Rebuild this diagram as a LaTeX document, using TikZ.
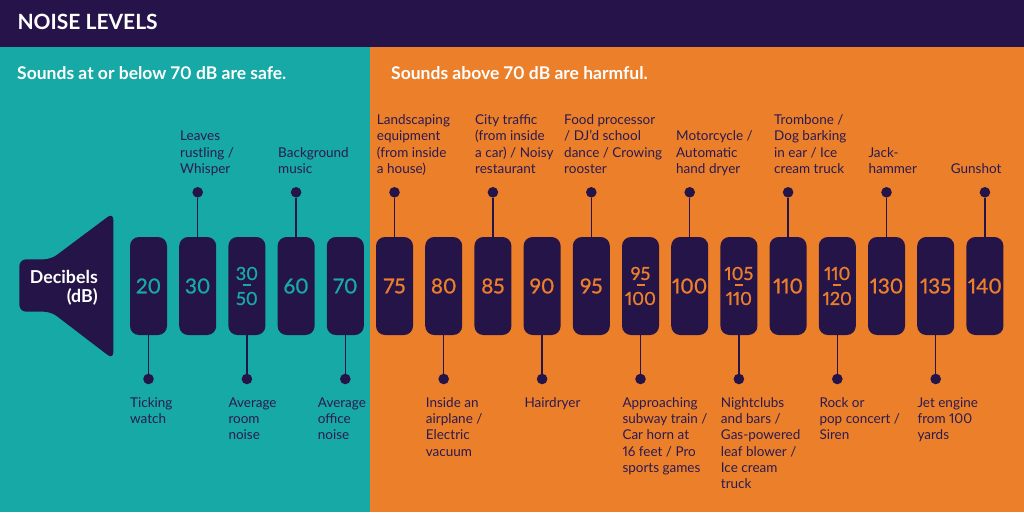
\documentclass[tikz,border=0pt]{standalone}
\usepackage{fontspec}
\setmainfont{Lato}[Numbers=Proportional]
\newfontface\numfont{Lato}[Numbers=Proportional, FakeBold=1.2]
\definecolor{hdr}{HTML}{26134A}
\definecolor{barc}{HTML}{251448}
\definecolor{tealbg}{HTML}{17A9A5}
\definecolor{orangebg}{HTML}{EC7F2A}
\definecolor{txt}{HTML}{2A1A50}
\newcommand\toplines[1]{\begin{tabular}[b]{@{}l@{}}#1\end{tabular}}
\newcommand\botlines[1]{\begin{tabular}[t]{@{}l@{}}#1\end{tabular}}
\tikzset{
  barbox/.style={fill=barc, rounded corners=9pt, minimum width=37pt, minimum height=98pt, inner sep=0pt, font=\numfont\fontsize{20.5}{24}\selectfont},
  sbar/.style={barbox, text=tealbg},
  hbar/.style={barbox, text=orangebg},
  fracbar/.style={align=center, font=\numfont\fontsize{18}{25}\selectfont},
  fracline/.style={line width=1.3pt},
  dot/.style={circle, fill=barc, minimum size=10.6pt, inner sep=0pt},
  pinline/.style={draw=barc, line width=1.4pt},
  lbl/.style={anchor=base west, inner sep=0pt, text=txt, font=\fontsize{13.5}{16.3}\selectfont},
}
\begin{document}
\begin{tikzpicture}[x=1pt,y=-1pt]
\useasboundingbox (0,0) rectangle (1024,516);
\fill[white] (0,0) rectangle (1024,516);
\fill[hdr] (0,0) rectangle (1024,47);
\fill[tealbg] (0,47) rectangle (370,511.5);
\fill[orangebg] (370,47) rectangle (1024,511.5);

\node[anchor=base west, inner sep=0pt, text=white, font=\bfseries\fontsize{21}{25}\selectfont] (title) at (17.3,30) {NOISE LEVELS};
\node[anchor=base west, inner sep=0pt, text=white, font=\bfseries\fontsize{17.5}{20}\selectfont] (safe) at (17,80) {Sounds at or below 70 dB are safe.};
\node[anchor=base west, inner sep=0pt, text=white, font=\bfseries\fontsize{17.5}{20}\selectfont] (harm) at (391,80) {Sounds above 70 dB are harmful.};

% speaker
\fill[barc, rounded corners=7pt] (19.3,259.3) -- (51,259.3) -- (113.3,212.7) -- (113.3,359.3) -- (51,311.7) -- (19.3,311.7) -- cycle;
\node[anchor=base east, inner sep=0pt, text=white, font=\bfseries\fontsize{17.8}{18.2}\selectfont] (db) at (98,283.5)
  {\begin{tabular}[t]{@{}r@{}}Decibels\\(dB)\end{tabular}};

% bars
\node[sbar] (b1) at (148.5,286) {20};
\node[sbar] (b2) at (197.7,286) {30};
\node[sbar] (b3) at (246.9,286) {};
\node[sbar] (b4) at (296.1,286) {60};
\node[sbar] (b5) at (345.3,286) {70};
\node[hbar] (b6) at (394.5,286) {75};
\node[hbar] (b7) at (443.7,286) {80};
\node[hbar] (b8) at (492.9,286) {85};
\node[hbar] (b9) at (542.1,286) {90};
\node[hbar] (b10) at (591.3,286) {95};
\node[hbar] (b11) at (640.5,286) {};
\node[hbar] (b12) at (689.7,286) {100};
\node[hbar] (b13) at (738.9,286) {};
\node[hbar] (b14) at (788.1,286) {110};
\node[hbar] (b15) at (837.3,286) {};
\node[hbar] (b16) at (886.5,286) {130};
\node[hbar] (b17) at (935.7,286) {135};
\node[hbar] (b18) at (984.9,286) {140};

% fractions
\node[fracbar, text=tealbg] (f3) at (b3) {30\\50};
\draw[fracline, tealbg] (242.9,285) -- (250.9,285);
\node[fracbar, text=orangebg] (f11) at (b11) {95\\100};
\draw[fracline, orangebg] (636.5,285) -- (644.5,285);
\node[fracbar, text=orangebg] (f13) at (b13) {105\\110};
\draw[fracline, orangebg] (734.9,285) -- (742.9,285);
\node[fracbar, text=orangebg] (f15) at (b15) {110\\120};
\draw[fracline, orangebg] (833.3,285) -- (841.3,285);

% top pins
\foreach \i/\x in {2/197.7,4/296.1,6/394.5,8/492.9,10/591.3,12/689.7,14/788.1,16/886.5,18/984.9}{
  \node[dot] (t\i) at (\x,192.3) {};
  \draw[pinline] (t\i) -- (b\i);
}
% bottom pins
\foreach \i/\x in {1/148.5,3/246.9,5/345.3,7/443.7,9/542.1,11/640.5,13/738.9,15/837.3,17/935.7}{
  \node[dot] (u\i) at (\x,379) {};
  \draw[pinline] (b\i) -- (u\i);
}

% top labels
\node[lbl] (l2) at (180,173.3) {\toplines{Leaves\\rustling /\\Whisper}};
\node[lbl] (l4) at (278,173.3) {\toplines{Background\\music}};
\node[lbl] (l6) at (376.7,173.3) {\toplines{Landscaping\\equipment\\(from inside\\a house)}};
\node[lbl] (l8) at (475,173.3) {\toplines{City traffic\\(from inside\\a car) / Noisy\\restaurant}};
\node[lbl] (l10) at (564,173.3) {\toplines{Food processor\\/ DJ’d school\\dance / Crowing\\rooster}};
\node[lbl] (l12) at (676,173.3) {\toplines{Motorcycle /\\Automatic\\hand dryer}};
\node[lbl] (l14) at (774,173.3) {\toplines{Trombone /\\Dog barking\\in ear / Ice\\cream truck}};
\node[lbl] (l16) at (868.3,173.3) {\toplines{Jack-\\hammer}};
\node[lbl] (l18) at (950.7,173.3) {\toplines{Gunshot}};

% bottom labels
\node[lbl] (l1) at (130,407.3) {\botlines{Ticking\\watch}};
\node[lbl] (l3) at (228.3,407.3) {\botlines{Average\\room\\noise}};
\node[lbl] (l5) at (317.7,407.3) {\botlines{Average\\office\\noise}};
\node[lbl] (l7) at (425.7,407.3) {\botlines{Inside an\\airplane /\\Electric\\vacuum}};
\node[lbl] (l9) at (524.3,407.3) {\botlines{Hairdryer}};
\node[lbl] (l11) at (622.3,407.3) {\botlines{Approaching\\subway train /\\Car horn at\\16 feet / Pro\\sports games}};
\node[lbl] (l13) at (720.7,407.3) {\botlines{Nightclubs\\and bars /\\Gas-powered\\leaf blower /\\Ice cream\\truck}};
\node[lbl] (l15) at (819.3,407.3) {\botlines{Rock or\\pop concert /\\Siren}};
\node[lbl] (l17) at (917.3,407.3) {\botlines{Jet engine\\from 100\\yards}};
\end{tikzpicture}
\end{document}
